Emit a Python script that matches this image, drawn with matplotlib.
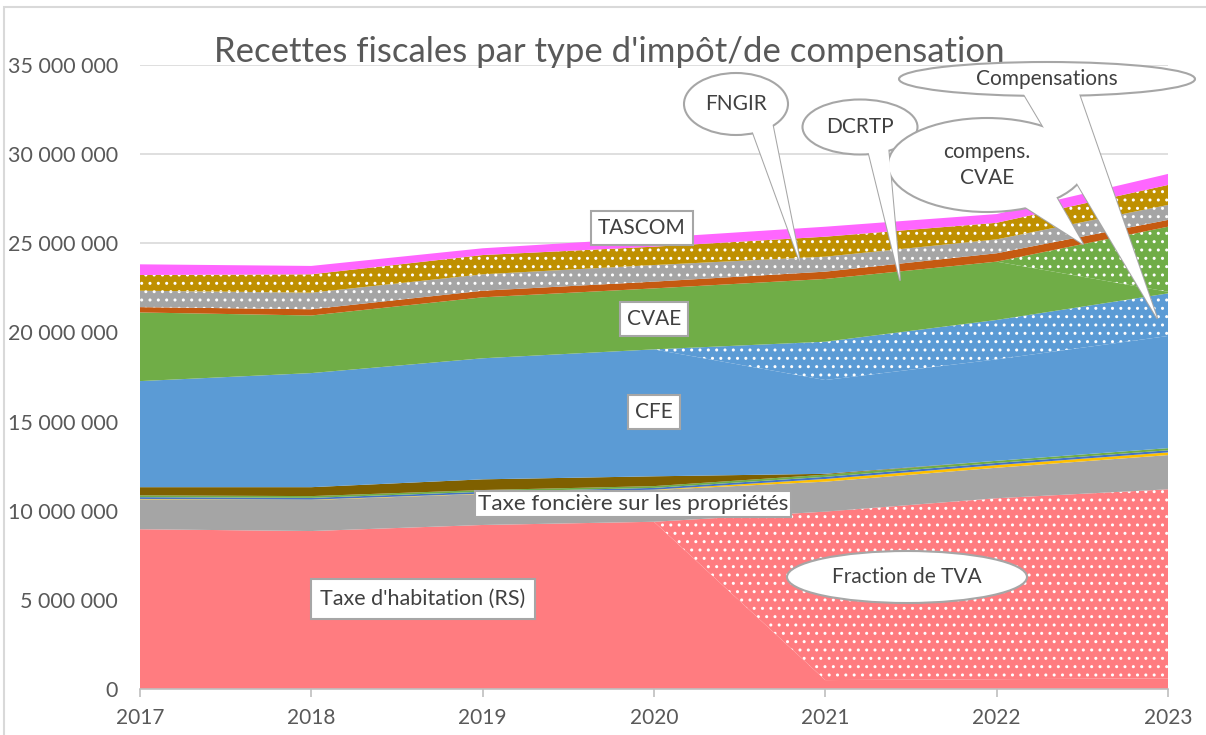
import matplotlib.pyplot as plt
import numpy as np
from matplotlib.patches import Ellipse, Polygon, Rectangle
from matplotlib.lines import Line2D
from matplotlib.ticker import FuncFormatter

plt.rcParams['font.family'] = ['Lato', 'DejaVu Sans']
plt.rcParams['hatch.color'] = 'white'
plt.rcParams['hatch.linewidth'] = 1.0

years = [2017, 2018, 2019, 2020, 2021, 2022, 2023]

# montants en millions d'euros, du bas vers le haut de la pile
taxe_habitation = [8.96, 8.86, 9.20, 9.38, 0.50, 0.55, 0.60]
fraction_tva = [0, 0, 0, 0, 9.45, 10.15, 10.60]
taxe_fonciere = [1.68, 1.74, 1.74, 1.78, 1.68, 1.71, 1.92]
taxe_jaune = [0.02, 0.02, 0.02, 0.02, 0.15, 0.15, 0.15]
taxe_bleue = [0.10, 0.10, 0.10, 0.10, 0.12, 0.12, 0.12]
taxe_verte = [0.10, 0.10, 0.10, 0.10, 0.12, 0.12, 0.12]
taxe_marron = [0.46, 0.50, 0.60, 0.55, 0.05, 0, 0]
cfe = [5.95, 6.40, 6.79, 7.12, 5.26, 5.69, 6.29]
compens_cfe = [0, 0, 0, 0, 2.15, 2.21, 2.39]
cvae = [3.85, 3.23, 3.42, 3.42, 3.52, 3.27, 0.09]
compens_cvae = [0, 0, 0, 0, 0, 0, 3.65]
dcrtp = [0.30, 0.35, 0.37, 0.38, 0.41, 0.47, 0.38]
fngir = [0.92, 0.93, 0.92, 0.93, 0.84, 0.78, 0.84]
taxe_or = [0.88, 1.03, 1.08, 1.03, 1.12, 0.93, 1.12]
tascom = [0.60, 0.47, 0.38, 0.50, 0.56, 0.49, 0.62]

layers = [
    (taxe_habitation, '#FF7C80', None),
    (fraction_tva, '#FF7C80', '..'),
    (taxe_fonciere, '#A5A5A5', None),
    (taxe_jaune, '#FFC000', None),
    (taxe_bleue, '#4472C4', None),
    (taxe_verte, '#70AD47', None),
    (taxe_marron, '#7F6000', None),
    (cfe, '#5B9BD5', None),
    (compens_cfe, '#5B9BD5', '..'),
    (cvae, '#70AD47', None),
    (compens_cvae, '#70AD47', '..'),
    (dcrtp, '#C55A11', None),
    (fngir, '#A5A5A5', '..'),
    (taxe_or, '#BF9000', '..'),
    (tascom, '#FF66FF', None),
]

W, H = 1206, 735
fig = plt.figure(figsize=(W / 100, H / 100), dpi=100)
ax = fig.add_axes([140 / W, 1 - 689 / H, 1028 / W, 624 / H])

bottom = np.zeros(len(years))
for values, color, hatch in layers:
    top = bottom + np.array(values) * 1e6
    ax.fill_between(years, bottom, top, facecolor=color, hatch=hatch,
                    linewidth=0, zorder=2)
    bottom = top

ax.set_xlim(2017, 2023)
ax.set_ylim(0, 35e6)
ax.set_xticks(years)
ax.set_yticks(np.arange(0, 35e6 + 1, 5e6))
ax.yaxis.set_major_formatter(FuncFormatter(lambda v, p: f'{v:,.0f}'.replace(',', ' ')))
ax.grid(axis='y', color='#D9D9D9', linewidth=1.2, zorder=0)
ax.set_axisbelow(True)
for side in ['left', 'right', 'top']:
    ax.spines[side].set_visible(False)
ax.spines['bottom'].set_color('#BFBFBF')
ax.spines['bottom'].set_linewidth(1.2)
ax.tick_params(axis='y', length=0, labelsize=15.5, labelcolor='#595959', pad=16)
ax.tick_params(axis='x', length=6, width=1.2, color='#BFBFBF', labelsize=15,
               labelcolor='#595959', pad=8)


def px(x, y):
    return (x / W, 1 - y / H)


# cadre du graphique
fig.add_artist(Rectangle(px(4, 760), (W + 20) / W, 753 / H, transform=fig.transFigure,
                         facecolor='none', edgecolor='#D9D9D9', linewidth=1.5))

fig.text(*px(609, 52), "Recettes fiscales par type d'impôt/de compensation",
         ha='center', va='center', fontsize=25, color='#595959', zorder=5)

grey = '#A6A6A6'
txt = '#404040'


def callout(cx, cy, w, h, label, tail=None, fs=15):
    if tail is not None:
        (x1, y1), (x2, y2), (xt, yt) = tail
        fig.add_artist(Line2D([px(x1, y1)[0], px(xt, yt)[0], px(x2, y2)[0]],
                              [px(x1, y1)[1], px(xt, yt)[1], px(x2, y2)[1]],
                              transform=fig.transFigure, color=grey, lw=1.5, zorder=6))
    fig.add_artist(Ellipse(px(cx, cy), w / W, h / H, transform=fig.transFigure,
                           facecolor='white', edgecolor=grey, linewidth=1.5, zorder=6))
    if tail is not None:
        fig.add_artist(Polygon([px(x1, y1), px(xt, yt), px(x2, y2)], closed=True,
                               transform=fig.transFigure, facecolor='white',
                               edgecolor='none', zorder=6.5))
    fig.text(*px(cx, cy), label, ha='center', va='center', fontsize=fs,
             color=txt, zorder=7, linespacing=1.4)


def box(cx, cy, label, fs=15, pad=0.35):
    fig.text(*px(cx, cy), label, ha='center', va='center', fontsize=fs, color=txt,
             zorder=7, bbox=dict(boxstyle=f'square,pad={pad}', facecolor='white',
                                 edgecolor=grey, linewidth=1.5))


callout(1047, 79, 296, 34, 'Compensations',
        tail=((1022, 91), (1078, 91), (1157, 318)))
callout(736, 104, 104, 62, 'FNGIR', tail=((752, 130), (772, 122), (800, 262)))
callout(860, 127, 115, 55, 'DCRTP', tail=((868, 150), (888, 146), (900, 280)))
callout(987, 165, 198, 94, 'compens.\nCVAE', tail=((1022, 205), (1055, 195), (1083, 244)))
callout(907, 577, 240, 52, 'Fraction de TVA')

box(642, 228, 'TASCOM')
box(654, 319, 'CVAE')
box(654, 412, 'CFE')
box(633, 504, 'Taxe foncière sur les propriétés', fs=16.2, pad=0.12)
box(423, 599, "Taxe d'habitation (RS)", fs=15.5, pad=0.45)

fig.savefig('out.png', dpi=100)
